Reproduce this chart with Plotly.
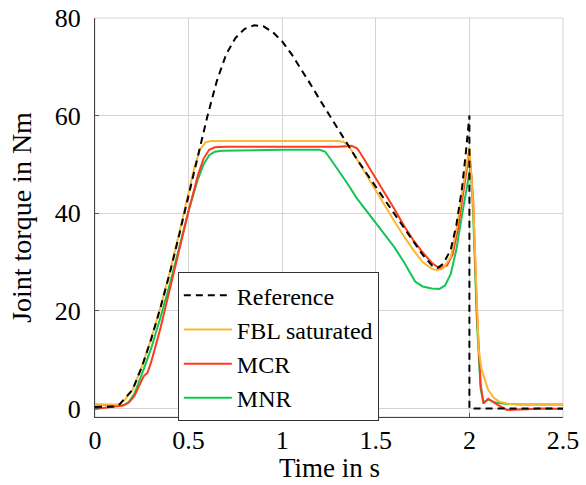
import plotly.graph_objects as go

# ---- data ----
ref_t = [0, 0.1, 0.13, 0.16, 0.2, 0.25, 0.3, 0.35, 0.4, 0.45, 0.5, 0.55, 0.6, 0.65, 0.7, 0.75,
         0.8, 0.85, 0.9, 0.95, 1.0, 1.05, 1.1, 1.15, 1.2, 1.25, 1.3, 1.35, 1.4, 1.45, 1.5, 1.55,
         1.6, 1.65, 1.7, 1.75, 1.8, 1.83, 1.86, 1.9, 1.93, 1.96, 1.98, 2.0, 2.0, 2.5]
ref_y = [0.3, 0.4, 0.8, 2.0, 3.8, 8.5, 14.2, 20.7, 27.8, 35.6, 43.8, 52.0, 59.8, 67.0, 72.5, 75.9,
         77.8, 78.5, 78.3, 77.1, 75.2, 72.6, 69.6, 66.5, 63.3, 60.2, 57.1, 54.0, 51.0, 48.2, 45.4, 42.6,
         39.8, 37.0, 34.2, 31.5, 29.3, 28.8, 29.6, 32.5, 37.5, 45.0, 52.0, 60.0, 0.0, 0.0]

fbl_t = [0, 0.1, 0.13, 0.16, 0.2, 0.25, 0.3, 0.35, 0.4, 0.45, 0.5, 0.53, 0.56, 0.59, 0.62, 0.7,
         0.9, 1.1, 1.3, 1.33, 1.36, 1.4, 1.45, 1.5, 1.55, 1.6, 1.65, 1.7, 1.75, 1.8, 1.83, 1.86,
         1.9, 1.93, 1.96, 1.99, 2.0, 2.02, 2.035, 2.05, 2.065, 2.08, 2.1, 2.13, 2.16, 2.2, 2.25, 2.5]
fbl_y = [0.8, 0.7, 0.8, 1.8, 3.8, 8.5, 14.3, 20.8, 28.0, 36.0, 44.3, 49.2, 53.0, 54.5, 54.8, 54.8,
         54.8, 54.8, 54.8, 54.6, 53.5, 51.0, 47.8, 44.5, 41.5, 38.3, 35.3, 32.5, 30.0, 28.6, 28.3, 28.7,
         31.0, 36.5, 44.0, 51.5, 53.5, 42.0, 26.0, 12.0, 8.0, 6.0, 3.8, 2.2, 1.4, 1.0, 0.8, 0.8]

mcr_t = [0, 0.1, 0.15, 0.18, 0.21, 0.24, 0.26, 0.28, 0.3, 0.35, 0.4, 0.45, 0.5, 0.55, 0.58, 0.61,
         0.64, 0.7, 0.9, 1.1, 1.3, 1.37, 1.4, 1.42, 1.45, 1.5, 1.55, 1.6, 1.65, 1.7, 1.75, 1.8,
         1.84, 1.88, 1.91, 1.94, 1.97, 2.0, 2.02, 2.04, 2.06, 2.075, 2.1, 2.14, 2.2, 2.3, 2.4, 2.5]
mcr_y = [-0.1, 0.3, 0.6, 1.2, 2.5, 5.0, 6.6, 7.3, 9.5, 16.5, 24.5, 32.5, 40.5, 47.8, 51.2, 53.0,
         53.5, 53.6, 53.6, 53.6, 53.6, 53.8, 53.3, 52.2, 50.3, 47.3, 44.0, 40.8, 37.5, 34.5, 32.0, 29.8,
         28.7, 29.3, 31.5, 37.0, 45.0, 52.5, 43.0, 20.0, 5.0, 1.0, 2.0, 1.0, -0.3, -0.2, 0.0, -0.1]

mnr_t = [0, 0.1, 0.15, 0.18, 0.21, 0.25, 0.3, 0.35, 0.4, 0.45, 0.5, 0.55, 0.58, 0.61, 0.64, 0.68,
         0.8, 1.0, 1.2, 1.23, 1.26, 1.3, 1.35, 1.4, 1.45, 1.5, 1.55, 1.6, 1.65, 1.68, 1.71, 1.75,
         1.8, 1.84, 1.87, 1.9, 1.93, 1.96, 1.99, 2.007, 2.02, 2.04, 2.06, 2.075, 2.1, 2.14, 2.2, 2.3, 2.5]
mnr_y = [0.8, 0.6, 0.6, 1.3, 3.0, 7.0, 12.3, 18.7, 25.5, 33.0, 40.5, 47.0, 50.0, 51.9, 52.6, 52.8,
         52.9, 53.0, 53.0, 52.6, 51.0, 48.8, 46.0, 43.0, 40.5, 38.0, 35.5, 33.0, 30.0, 28.0, 26.0, 25.0,
         24.6, 24.5, 25.2, 27.5, 32.5, 39.5, 46.5, 49.8, 40.0, 18.0, 4.0, 1.3, 1.8, 1.2, 0.9, 0.8, 0.8]

x_ticks = [0, 0.5, 1, 1.5, 2, 2.5]
x_tick_text = ["0", "0.5", "1", "1.5", "2", "2.5"]
y_ticks = [0, 20, 40, 60, 80]
y_tick_text = ["0", "20", "40", "60", "80"]
x_title = "Time in s"
y_title = "Joint torque in Nm"

FONT = "Liberation Serif"

fig = go.Figure()
fig.add_trace(go.Scatter(x=mnr_t, y=mnr_y, mode="lines", name="MNR",
                         line=dict(color="#12C653", width=2), legendrank=4))
fig.add_trace(go.Scatter(x=mcr_t, y=mcr_y, mode="lines", name="MCR",
                         line=dict(color="#FF3B1D", width=2), legendrank=3))
fig.add_trace(go.Scatter(x=fbl_t, y=fbl_y, mode="lines", name="FBL saturated",
                         line=dict(color="#FAB733", width=2), legendrank=2))
fig.add_trace(go.Scatter(x=ref_t, y=ref_y, mode="lines", name="Reference",
                         line=dict(color="black", width=2, dash="7px,5px"), legendrank=1))

fig.update_layout(
    width=586, height=485,
    margin=dict(l=95, r=23, t=18, b=68, autoexpand=False),
    paper_bgcolor="white", plot_bgcolor="white",
    font=dict(family=FONT, size=26, color="black"),
    showlegend=True,
    legend=dict(x=0.177, y=0.363, xanchor="left", yanchor="top",
                bgcolor="white", bordercolor="#333333", borderwidth=1,
                itemwidth=48,
                font=dict(family=FONT, size=24, color="black"), traceorder="normal"),
    xaxis=dict(range=[0, 2.5], tickvals=x_ticks, ticktext=x_tick_text,
               showgrid=True, gridcolor="#d4d4d4", gridwidth=1, zeroline=False,
               showline=True, linecolor="#444444", linewidth=1.2,
               ticks="inside", ticklen=4, tickcolor="#555555",
               tickfont=dict(family=FONT, size=26, color="black"),
               ticklabelstandoff=0, ticklabeloverflow="allow", automargin=False),
    yaxis=dict(range=[-1.75, 80], tickvals=y_ticks, ticktext=y_tick_text,
               showgrid=True, gridcolor="#d4d4d4", gridwidth=1, zeroline=False,
               showline=True, linecolor="#444444", linewidth=1.2,
               ticks="inside", ticklen=4, tickcolor="#555555",
               tickfont=dict(family=FONT, size=26, color="black"),
               ticklabelstandoff=8, ticklabeloverflow="allow", automargin=False,
               title=dict(text=y_title, standoff=14,
                          font=dict(family=FONT, size=28, color="black"))),
    annotations=[dict(text=x_title, xref="paper", yref="paper", x=0.5, y=0,
                      xanchor="center", yanchor="middle", yshift=-51, showarrow=False,
                      borderpad=0, font=dict(family=FONT, size=27, color="black"))],
    shapes=[dict(type="rect", xref="paper", yref="paper", x0=0, y0=0, x1=1, y1=1,
                 line=dict(color="#d4d4d4", width=1), layer="below")],
)

fig.write_html("out.html", config={"displayModeBar": False},
               post_script="document.body.style.margin='0';")
